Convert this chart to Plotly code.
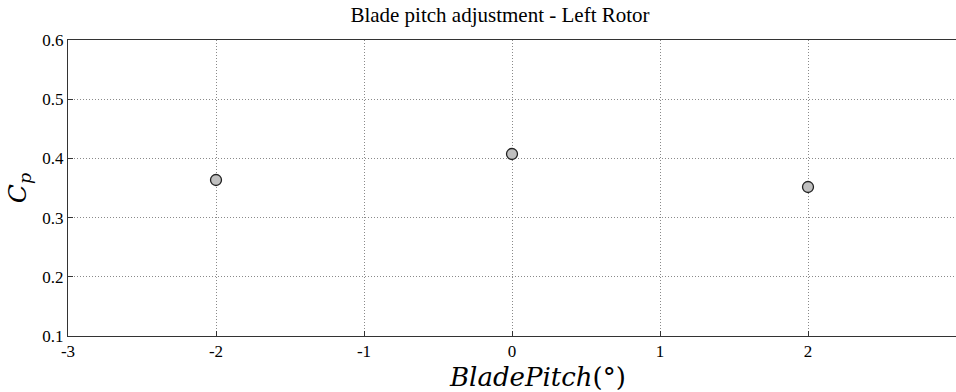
import plotly.graph_objects as go

pitch = [-2, 0, 2]
cp = [0.3635, 0.4074, 0.3517]
x_ticks = [-3, -2, -1, 0, 1, 2, 3]
y_ticks = [0.1, 0.2, 0.3, 0.4, 0.5, 0.6]

fig = go.Figure()
fig.add_trace(go.Scatter(
    x=pitch, y=cp, mode="markers",
    marker=dict(size=11, color="#c0c0c0", line=dict(color="#222222", width=1.3)),
    showlegend=False, cliponaxis=False,
))

serif = "Liberation Serif, Times New Roman, serif"
mathf = "DejaVu Serif, serif"
fig.update_layout(
    template="none",
    width=956, height=392,
    margin=dict(l=68, r=0, t=40, b=56),
    paper_bgcolor="white", plot_bgcolor="white",
    font=dict(family=serif, color="black", size=16),
    title=dict(text="Blade pitch adjustment - Left Rotor", x=0.523, xanchor="center",
               y=0.962, yanchor="middle", font=dict(family=serif, size=21, color="black")),
)
common = dict(
    ticks="inside", ticklen=5, tickcolor="#333", showline=True, linecolor="#333", linewidth=1,
    mirror=True, showgrid=True, gridcolor="#8a8a8a", griddash="1px,2px", gridwidth=1,
    zeroline=False, tickfont=dict(family=serif, size=17, color="black"),
)
fig.update_xaxes(
    range=[-3, 3], tickvals=x_ticks, ticktext=[str(v) for v in x_ticks],
    **common,
)
fig.update_yaxes(
    range=[0.1, 0.6], tickvals=y_ticks, ticktext=[f"{v:.1f}" for v in y_ticks],
    title=dict(text="<i>C</i><sub><i>p</i></sub>", font=dict(family=mathf, size=25, color="black"), standoff=8),
    **common,
)
fig.add_annotation(
    text="<i>BladePitch</i>(°)", xref="paper", yref="paper",
    x=(537 - 68) / (956 - 68), y=-0.14, xanchor="center", yanchor="middle",
    showarrow=False, font=dict(family=mathf, size=26, color="black"),
)
fig.write_html("out.html")
